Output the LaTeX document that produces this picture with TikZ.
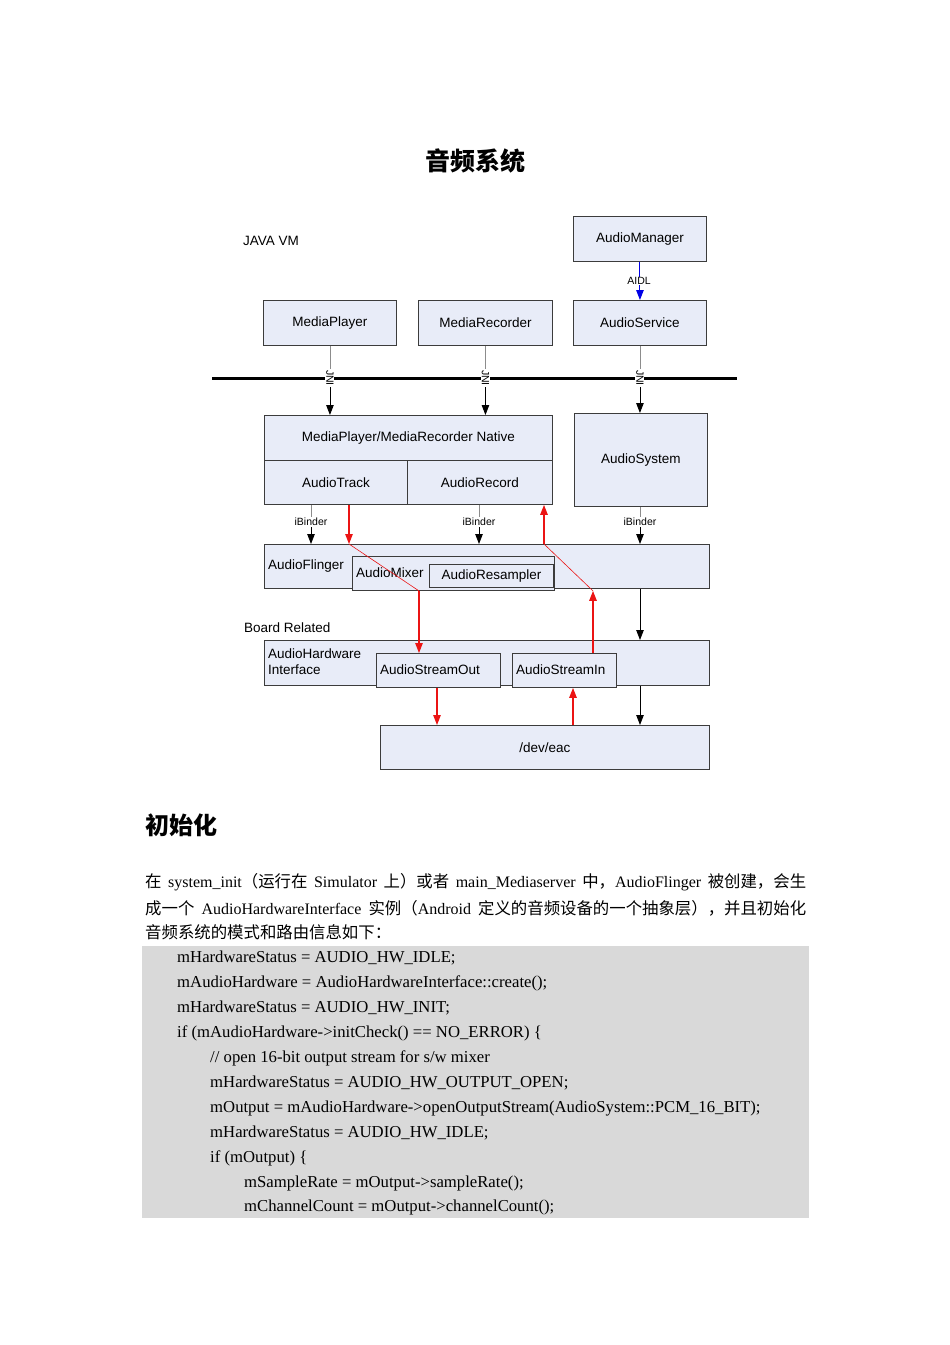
\documentclass[tikz,border=0pt]{standalone}
\usepackage{fontspec}
\setmainfont{Liberation Sans}
\newfontfamily\cjk{Noto Sans CJK SC}
\newfontfamily\serifl{Liberation Serif}
\usetikzlibrary{arrows.meta}
\newcommand\zh[1]{{\cjk\fontsize{16.4}{18}\selectfont #1}}
\definecolor{boxfill}{RGB}{232,236,248}
\definecolor{boxline}{RGB}{60,60,60}
\definecolor{codebg}{RGB}{217,217,217}
\definecolor{lnkgray}{RGB}{140,140,140}
\definecolor{redl}{RGB}{235,20,20}
\definecolor{bluel}{RGB}{0,0,230}
\tikzset{
  box/.style={draw=boxline, fill=boxfill, line width=0.9pt, inner sep=0pt, anchor=north west, font=\fontsize{13.5}{15}\selectfont},
  txt/.style={inner sep=0pt, font=\fontsize{13.5}{15}\selectfont},
  lbl/.style={fill=white, inner sep=0.8pt, font=\fontsize{10.5}{11}\selectfont},
  tip/.style={-{Triangle[length=10pt,width=7.5pt]}},
  blk/.style={tip, draw=black, line width=0.9pt},
  gry/.style={draw=lnkgray, line width=0.8pt},
  red/.style={tip, draw=redl, fill=redl, line width=1.2pt},
  thinred/.style={draw=redl, line width=0.6pt},
  code/.style={anchor=west, inner sep=0pt, font=\serifl\fontsize{16.7}{18}\selectfont},
  para/.style={anchor=west, inner sep=0pt, font=\serifl\fontsize{16}{18}\selectfont},
}
\begin{document}
\begin{tikzpicture}[x=1pt,y=-1pt]
\useasboundingbox (0,0) rectangle (950,1345);
% title
\node[inner sep=0pt, font=\cjk\bfseries\fontsize{25}{28}\selectfont] (title) at (475,161) {音频系统};
\node[txt, anchor=west] (jvm) at (243,241) {JAVA VM};
% boxes
\node[box, minimum width=133pt, minimum height=45pt] (am) at (573,216) {AudioManager};
\node[box, minimum width=133pt, minimum height=45pt] (mp) at (263,300) {MediaPlayer};
\node[box, minimum width=134pt, minimum height=45pt] (mr) at (418,300) {MediaRecorder};
\node[box, minimum width=133pt, minimum height=45pt] (as) at (573,300) {AudioService};
% java/native boundary
\draw[line width=3pt] (212,378) coordinate (bl) -- (737,378) coordinate (br);
\node[box, minimum width=288pt, minimum height=45pt] (nat) at (264,415) {MediaPlayer/MediaRecorder Native};
\node[box, minimum width=143pt, minimum height=44pt] (at) at (264,460) {AudioTrack};
\node[box, minimum width=145pt, minimum height=44pt] (ar) at (407,460) {AudioRecord};
\node[box, minimum width=133pt, minimum height=93pt] (asys) at (574,413) {AudioSystem};
\node[box, minimum width=445pt, minimum height=44pt] (af) at (264,544) {};
\node[txt, anchor=west] (aft) at (268,566) {AudioFlinger};
\node[box, minimum width=202pt, minimum height=34pt] (amix) at (352,556) {};
\node[txt, anchor=west] (amixt) at (356,573) {AudioMixer};
\node[box, minimum width=124pt, minimum height=23pt] (ares) at (429,564) {AudioResampler};
\node[txt, anchor=west] (board) at (244,628) {Board Related};
\node[box, minimum width=445pt, minimum height=45pt] (ahi) at (264,640) {};
\node[txt, anchor=north west, align=left, font=\fontsize{13.5}{16}\selectfont] (ahit) at (268,649) {AudioHardware\\Interface};
\node[box, minimum width=124pt, minimum height=34pt] (aso) at (376,653) {};
\node[txt, anchor=west] (asot) at (380,670) {AudioStreamOut};
\node[box, minimum width=104pt, minimum height=34pt] (asi) at (512,653) {};
\node[txt, anchor=west] (asit) at (516,670) {AudioStreamIn};
\node[box, minimum width=329pt, minimum height=44pt] (dev) at (380,725) {/dev/eac};
% x positions
\coordinate (x311) at (311,0);
\coordinate (x349) at (349,0);
\coordinate (x419) at (419,0);
\coordinate (x437) at (437,0);
\coordinate (x479) at (479,0);
\coordinate (x544) at (544,0);
\coordinate (x573) at (573,0);
\coordinate (x593) at (593,0);
\coordinate (x640) at (640,0);
% AIDL
\draw[tip, draw=bluel, fill=bluel, line width=1pt] (am.south) -- (as.north);
\node[lbl] (aidl) at (639,281) {AIDL};
% JNI
\draw[gry] (mp.south) -- (mp.south |- bl);
\draw[blk] (mp.south |- bl) -- (mp.south |- nat.north);
\node[lbl, rotate=-90] (jni1) at (mp.south |- bl) {JNI};
\draw[gry] (mr.south) -- (mr.south |- bl);
\draw[blk] (mr.south |- bl) -- (mr.south |- nat.north);
\node[lbl, rotate=-90] (jni2) at (mr.south |- bl) {JNI};
\draw[gry] (as.south) -- (as.south |- bl);
\draw[blk] (as.south |- bl) -- (as.south |- asys.north);
\node[lbl, rotate=-90] (jni3) at (as.south |- bl) {JNI};
% iBinder
\coordinate (ib) at (0,522);
\draw[gry] (at.south -| x311) -- (ib -| x311);
\draw[blk] (ib -| x311) -- (af.north -| x311);
\node[lbl] (ib1) at (ib -| x311) {iBinder};
\draw[gry] (ar.south -| x479) -- (ib -| x479);
\draw[blk] (ib -| x479) -- (af.north -| x479);
\node[lbl] (ib2) at (ib -| x479) {iBinder};
\draw[gry] (asys.south -| x640) -- (ib -| x640);
\draw[blk] (ib -| x640) -- (af.north -| x640);
\node[lbl] (ib3) at (ib -| x640) {iBinder};
% red data paths
\draw[red] (at.south -| x349) -- (af.north -| x349);
\draw[thinred] (af.north -| x349) -- (amix.south -| x419);
\draw[red] (amix.south -| x419) -- (aso.north -| x419);
\draw[red] (aso.south -| x437) -- (dev.north -| x437);
\draw[red] (dev.north -| x573) -- (asi.south -| x573);
\draw[red] (asi.north -| x593) -- (amix.south -| x593);
\draw[thinred] (amix.south -| x593) -- (af.north -| x544);
\draw[red] (af.north -| x544) -- (ar.south -| x544);
% control path
\draw[blk] (af.south -| x640) -- (ahi.north -| x640);
\draw[blk] (ahi.south -| x640) -- (dev.north -| x640);
% text section
\node[anchor=west, inner sep=0pt, font=\cjk\bfseries\fontsize{24}{26}\selectfont] (h2) at (145,825) {初始化};
\node[para] (p1) at (145,882) {\makebox[661pt][s]{\zh{在} system\_init\zh{（运行在} Simulator \zh{上）或者} main\_Mediaserver \zh{中，}AudioFlinger \zh{被创建，会生}}};
\node[para] (p2) at (145,908) {\makebox[661pt][s]{\zh{成一个} AudioHardwareInterface \zh{实例（}Android \zh{定义的音频设备的一个抽象层），并且初始化}}};
\node[para] (p3) at (145,932) {\zh{音频系统的模式和路由信息如下：}};
\fill[codebg] (142,946) rectangle (809,1218);
\node[code] (c1) at (177,958) {mHardwareStatus = AUDIO\_HW\_IDLE;};
\node[code] (c2) at (177,983) {mAudioHardware = AudioHardwareInterface::create();};
\node[code] (c3) at (177,1008) {mHardwareStatus = AUDIO\_HW\_INIT;};
\node[code] (c4) at (177,1033) {if (mAudioHardware->initCheck() == NO\_ERROR) \{};
\node[code] (c5) at (210,1058) {// open 16-bit output stream for s/w mixer};
\node[code] (c6) at (210,1083) {mHardwareStatus = AUDIO\_HW\_OUTPUT\_OPEN;};
\node[code] (c7) at (210,1108) {mOutput = mAudioHardware->openOutputStream(AudioSystem::PCM\_16\_BIT);};
\node[code] (c8) at (210,1133) {mHardwareStatus = AUDIO\_HW\_IDLE;};
\node[code] (c9) at (210,1158) {if (mOutput) \{};
\node[code] (c10) at (244,1183) {mSampleRate = mOutput->sampleRate();};
\node[code] (c11) at (244,1207) {mChannelCount = mOutput->channelCount();};
\end{tikzpicture}
\end{document}
